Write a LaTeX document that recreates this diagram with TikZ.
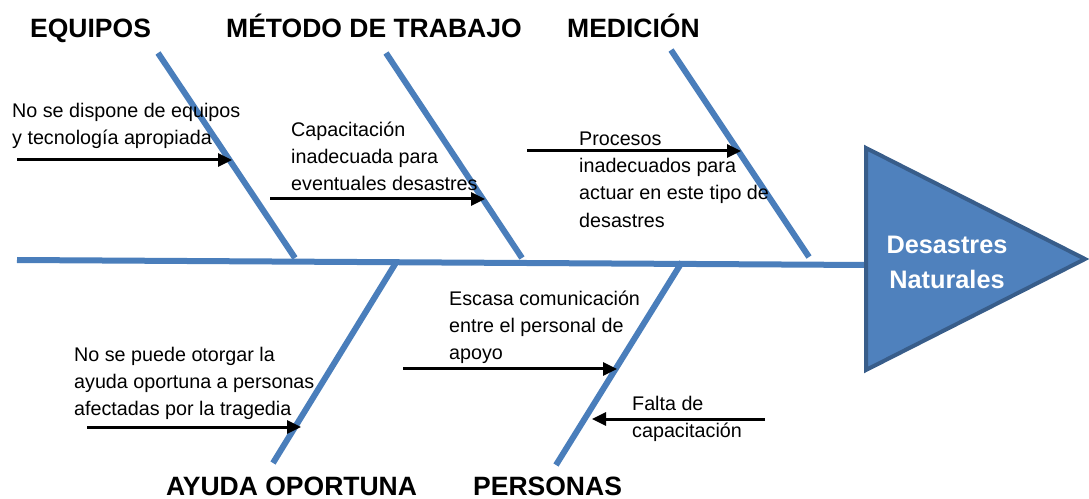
\documentclass[tikz,border=0pt]{standalone}
\usepackage{fontspec}
\setmainfont{Liberation Sans}
\usetikzlibrary{arrows.meta}
\definecolor{bone}{HTML}{4A7EBB}
\definecolor{headfill}{HTML}{4F81BD}
\definecolor{headline}{HTML}{385D8A}
\newcommand{\firstln}{\rule{0pt}{15bp}}
\begin{document}
\begin{tikzpicture}[x=1bp,y=-1bp,
  bonestyle/.style={draw=bone,line width=6bp},
  causearrow/.style={draw=black,line width=3bp,-{Triangle[length=14bp,width=13bp]}},
  causetext/.style={anchor=north west,inner sep=0pt,align=left,font=\fontsize{19.8}{27.5}\selectfont},
  headtext/.style={anchor=base west,inner sep=0pt,font=\fontsize{26.6}{30}\selectfont\bfseries}]
\useasboundingbox (0,0) rectangle (1089,499);

% spine and head
\coordinate (tail) at (17,260);
\coordinate (spineend) at (866,265);
\draw[bonestyle] (tail) -- (spineend);
\draw[fill=headfill,draw=headline,line width=4bp,line join=miter]
  (866,148) coordinate (h1) -- (1085,259) coordinate (h2) -- (866,370) coordinate (h3) -- cycle;
\node[text=white,align=center,font=\fontsize{25.4}{35}\selectfont\bfseries] (effect) at (947,262) {Desastres\\Naturales};

% bones
\coordinate (b1t) at (158,53);  \coordinate (b1b) at (295,258);
\coordinate (b2t) at (386,53);  \coordinate (b2b) at (522,258);
\coordinate (b3t) at (671,50);  \coordinate (b3b) at (809,257);
\coordinate (b4t) at (397,261); \coordinate (b4b) at (273,463);
\coordinate (b5t) at (682,262); \coordinate (b5b) at (556,465);
\draw[bonestyle] (b1t) -- (b1b);
\draw[bonestyle] (b2t) -- (b2b);
\draw[bonestyle] (b3t) -- (b3b);
\draw[bonestyle] (b4t) -- (b4b);
\draw[bonestyle] (b5t) -- (b5b);

% headers
\node[headtext] (hequipos) at (30,38) {EQUIPOS};
\node[headtext] (hmetodo) at (226,38) {MÉTODO DE TRABAJO};
\node[headtext] (hmedicion) at (567,38) {MEDICIÓN};
\node[headtext] (hayuda) at (166,495) {AYUDA OPORTUNA};
\node[headtext] (hpersonas) at (473,495) {PERSONAS};

% cause texts
\node[causetext] (t1) at (12,102) {\firstln No se dispone de equipos\\y tecnología apropiada};
\node[causetext] (t2) at (291,121) {\firstln Capacitación\\inadecuada para\\eventuales desastres};
\node[causetext] (t3) at (579,130) {\firstln Procesos\\inadecuados para\\actuar en este tipo de\\desastres};
\node[causetext] (t4) at (449,290) {\firstln Escasa comunicación\\entre el personal de\\apoyo};
\node[causetext] (t5) at (74,346) {\firstln No se puede otorgar la\\ayuda oportuna a personas\\afectadas por la tragedia};
\node[causetext] (t6) at (632,395) {\firstln Falta de\\capacitación};

% cause arrows
\coordinate (a1s) at (17,160);  \coordinate (a1e) at (232,160);
\coordinate (a2s) at (270,199); \coordinate (a2e) at (485,199);
\coordinate (a3s) at (527,151); \coordinate (a3e) at (741,151);
\coordinate (a4s) at (87,427);  \coordinate (a4e) at (301,427);
\coordinate (a5s) at (403,369); \coordinate (a5e) at (617,369);
\coordinate (a6s) at (765,419); \coordinate (a6e) at (592,419);
\draw[causearrow] (a1s) -- (a1e);
\draw[causearrow] (a2s) -- (a2e);
\draw[causearrow] (a3s) -- (a3e);
\draw[causearrow] (a4s) -- (a4e);
\draw[causearrow] (a5s) -- (a5e);
\draw[causearrow] (a6s) -- (a6e);
\end{tikzpicture}
\end{document}
